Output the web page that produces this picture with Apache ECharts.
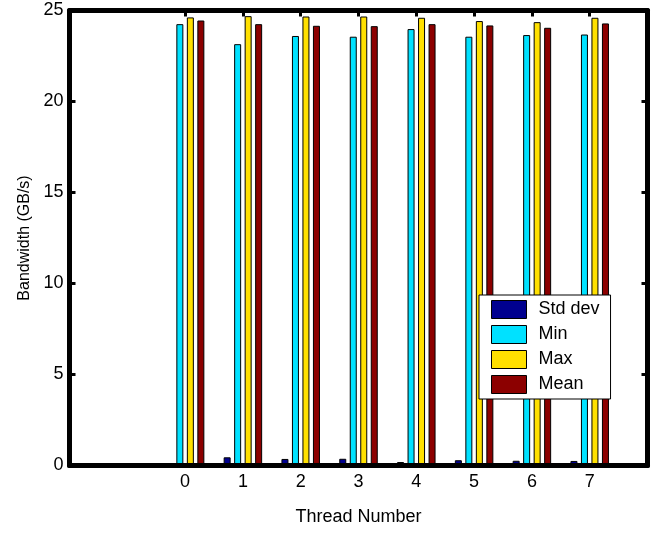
<!DOCTYPE html>
<html>
<head>
<meta charset="utf-8">
<script src="https://cdn.jsdelivr.net/npm/echarts@6/dist/echarts.min.js"></script>
<style>
  html, body { margin: 0; padding: 0; background: #fff; }
  #bar { width: 654px; height: 533px; }
</style>
</head>
<body>
<div id="bar"></div>
<script>
// axis runs from -2 to 8, only threads 0..7 carry data
const categories = ['-2', '-1', '0', '1', '2', '3', '4', '5', '6', '7', '8'];
const threads = ['0', '1', '2', '3', '4', '5', '6', '7'];
const stdDev = [0.12, 0.45, 0.36, 0.37, 0.19, 0.29, 0.26, 0.25];
const minBw = [24.25, 23.15, 23.6, 23.56, 23.98, 23.56, 23.65, 23.68];
const maxBw = [24.62, 24.69, 24.67, 24.67, 24.6, 24.42, 24.36, 24.6];
const meanBw = [24.45, 24.25, 24.16, 24.14, 24.25, 24.18, 24.05, 24.29];
const yTicks = [0, 5, 10, 15, 20, 25];

const font = 'Liberation Sans, Arial, Helvetica, sans-serif';

// put thread values on the -2..8 category axis
function pad(arr) {
    return categories.map(c => {
        const i = threads.indexOf(c);
        return i < 0 ? '-' : arr[i];
    });
}
function isThread(idx, val) {
    return threads.indexOf(categories[idx]) >= 0;
}

var myChart = echarts.init(document.getElementById('bar'));

function boxLine() {
    return { show: true, onZero: false, lineStyle: { color: '#000', width: 5 } };
}
function tick(show, interval) {
    var t = { show: show, inside: true, length: 6, lineStyle: { color: '#000', width: 3 } };
    if (interval) t.interval = interval;
    return t;
}

var barSeries = function (name, data, color) {
    return {
        name: name,
        type: 'bar',
        barWidth: 7,
        barGap: '50%',
        data: pad(data),
        itemStyle: { color: color, borderColor: '#000', borderWidth: 1 }
    };
};

var option = {
    animation: false,
    textStyle: { fontFamily: font },
    grid: { left: 69.5, right: 6.5, top: 10.5, bottom: 67.5 },
    legend: {
        orient: 'vertical',
        left: 479,
        top: 295,
        backgroundColor: '#fff',
        borderColor: '#000',
        borderWidth: 1,
        padding: [5, 11, 5, 12],
        itemWidth: 35,
        itemHeight: 18,
        itemGap: 6,
        icon: 'rect',
        itemStyle: { borderColor: '#000', borderWidth: 1 },
        textStyle: { fontSize: 18, color: '#000', fontFamily: font, padding: [0, 0, 0, 7], lineHeight: 18 },
        data: ['Std dev', 'Min', 'Max', 'Mean']
    },
    xAxis: [
        {
            type: 'category',
            data: categories,
            boundaryGap: false,
            z: 5,
            name: 'Thread Number',
            nameLocation: 'middle',
            nameGap: 43,
            nameTextStyle: { fontSize: 18, color: '#000', fontFamily: font },
            axisLine: boxLine(),
            axisTick: tick(false),
            axisLabel: {
                interval: isThread,
                fontSize: 18,
                color: '#000',
                margin: 8
            },
            splitLine: { show: false }
        },
        {
            type: 'category',
            data: categories,
            boundaryGap: false,
            position: 'top',
            z: 5,
            axisLine: boxLine(),
            axisTick: tick(true, isThread),
            axisLabel: { show: false },
            splitLine: { show: false }
        }
    ],
    yAxis: [
        {
            type: 'value',
            min: yTicks[0],
            max: yTicks[yTicks.length - 1],
            interval: 5,
            z: 5,
            name: 'Bandwidth (GB/s)',
            nameLocation: 'middle',
            nameGap: 34,
            nameTextStyle: { fontSize: 16, color: '#000', fontFamily: font },
            axisLine: boxLine(),
            axisTick: tick(true),
            axisLabel: { fontSize: 18, color: '#000', margin: 6 },
            splitLine: { show: false }
        },
        {
            type: 'value',
            min: yTicks[0],
            max: yTicks[yTicks.length - 1],
            interval: 5,
            position: 'right',
            z: 5,
            axisLine: boxLine(),
            axisTick: tick(true),
            axisLabel: { show: false },
            splitLine: { show: false }
        }
    ],
    series: [
        barSeries('Std dev', stdDev, '#00008F'),
        barSeries('Min', minBw, '#00E1FF'),
        barSeries('Max', maxBw, '#FFE000'),
        barSeries('Mean', meanBw, '#8C0000')
    ]
};
myChart.setOption(option);
</script>
</body>
</html>
